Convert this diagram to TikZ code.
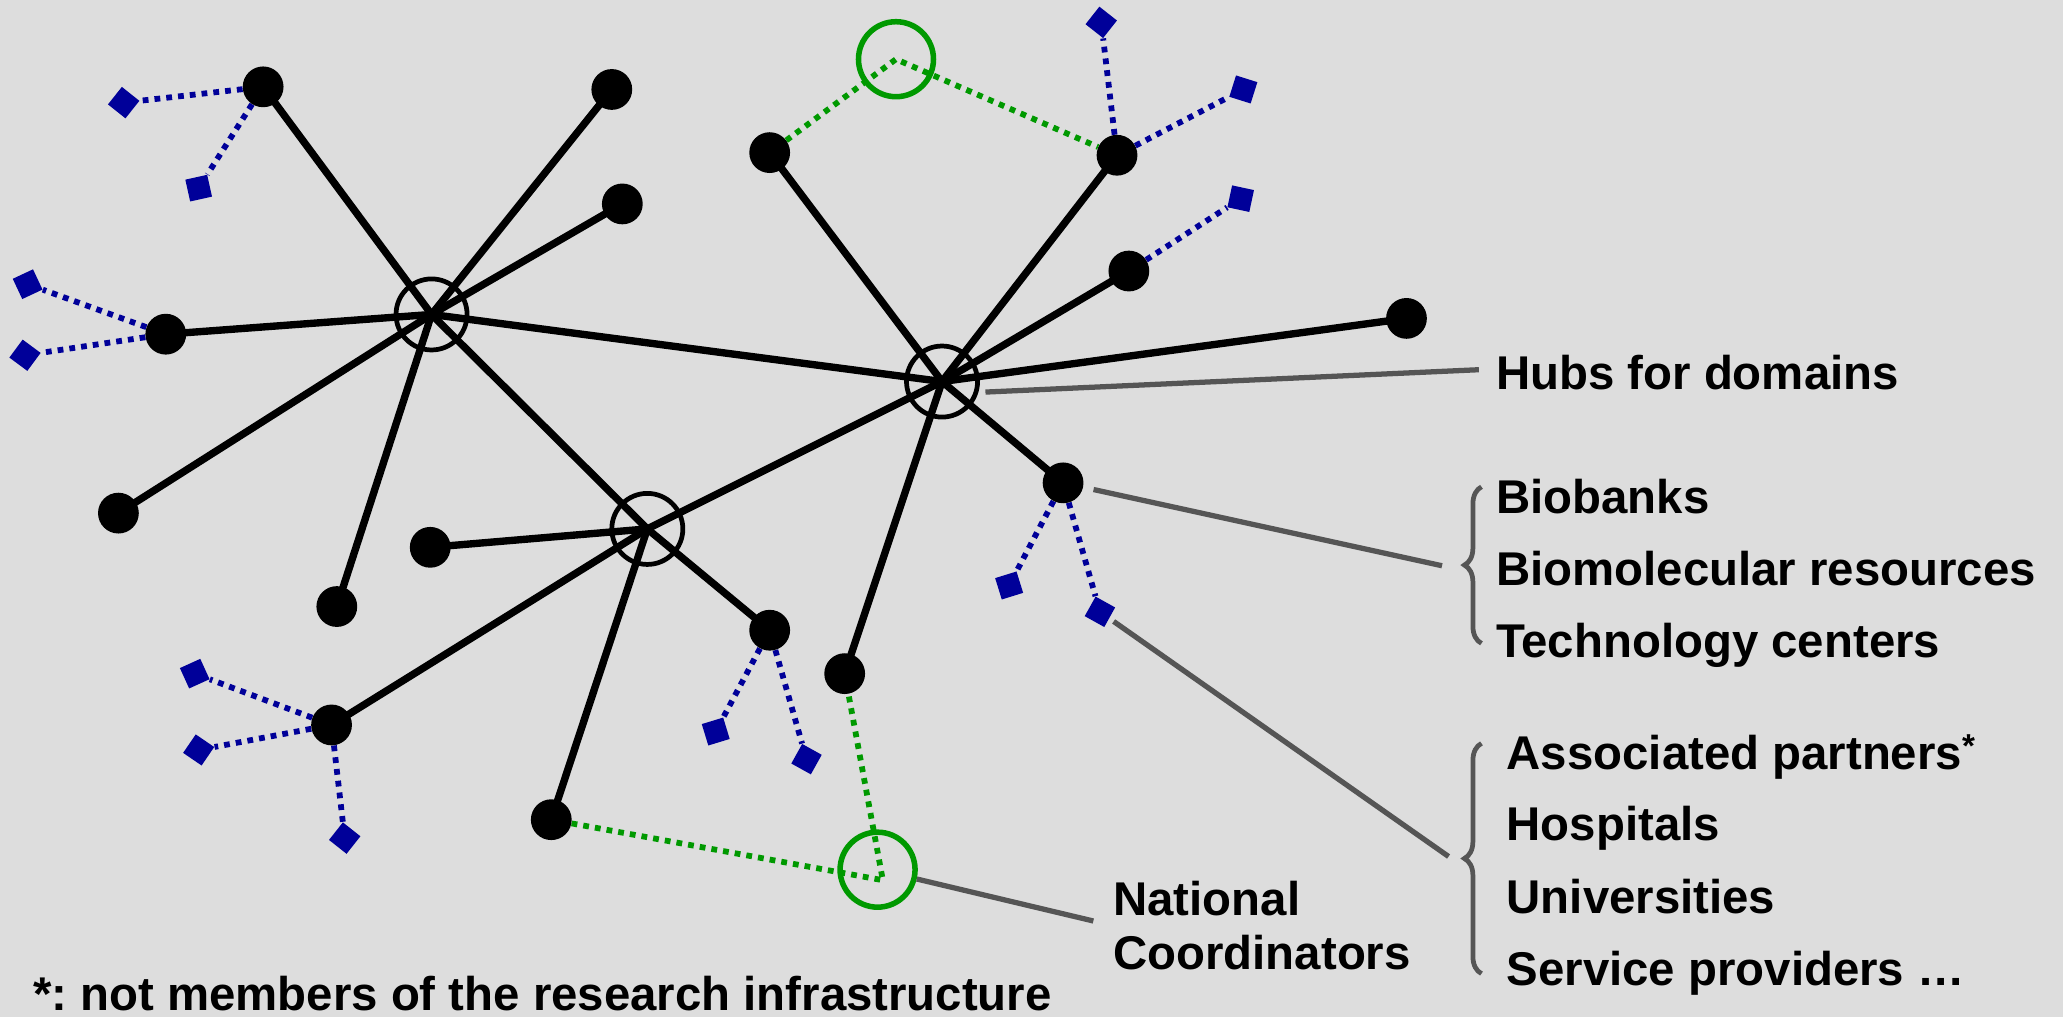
\documentclass[tikz,border=0pt]{standalone}
\usepackage{fontspec}
\setmainfont{Liberation Sans}
\usetikzlibrary{calc,decorations.pathreplacing}
\definecolor{bgc}{HTML}{DDDDDD}
\definecolor{dblue}{HTML}{000099}
\definecolor{dgreen}{HTML}{009900}
\definecolor{lgray}{HTML}{555555}
\pgfdeclarelayer{back}\pgfdeclarelayer{lines}\pgfsetlayers{back,lines,main}
\newcommand\bleaf[3]{%
  \path let \p1=($(#1)-(#3)$), \n1={atan2(\y1,\x1)} in node[diam,rotate=\n1+45] (#2) at (#3) {};
  \begin{pgfonlayer}{lines}\draw[bluedot] (#1) -- (#2);\end{pgfonlayer}}
\frenchspacing
\begin{document}
\begin{tikzpicture}[x=1pt,y=-1pt,
  dot/.style={circle,fill=black,minimum size=31pt,inner sep=0pt},
  hub/.style={circle,draw=black,line width=3.6pt,minimum size=54pt,inner sep=0pt},
  nc/.style={circle,draw=dgreen,line width=4.2pt,minimum size=57pt,inner sep=0pt},
  diam/.style={rectangle,fill=dblue,minimum size=17pt,inner sep=0pt},
  link/.style={line width=5.6pt,black},
  bluedot/.style={dblue,line width=4.4pt,dash pattern=on 4.4pt off 4.6pt},
  greendot/.style={dgreen,line width=4.4pt,dash pattern=on 4.4pt off 4.6pt},
  leader/.style={lgray,line width=4pt},
  brc/.style={lgray,line width=3.6pt,decorate,decoration={brace,amplitude=13pt}},
  lbl/.style={anchor=base west,inner sep=0pt,font=\fontsize{36}{43}\selectfont\bfseries}]
\begin{pgfonlayer}{back}
\fill[bgc] (0,0) rectangle (1568,773);
\end{pgfonlayer}
\useasboundingbox (0,0) rectangle (1568,773);
% hubs
\node[hub] (H1) at (328,239) {};
\node[hub] (H2) at (716,290) {};
\node[hub] (H3) at (492,402) {};
% national coordinators
\node[nc] (G1) at (681,45) {};
\node[nc] (G2) at (667,661) {};
\coordinate (g2m) at (671,669);
% dots
\foreach \n/\x/\y in {n1/200/66,n2/465/68,n3/473/155,n4/126/254,n5/90/390,n6/256/461,
  n7/585/116,n8/849/118,n9/858/206,n10/1069/242,n11/808/367,n12/642/512,
  n13/327/416,n14/585/479,n15/252/551,n16/419/623}
  \node[dot] (\n) at (\x,\y) {};
% links
\begin{pgfonlayer}{lines}
\foreach \a/\b in {H1/n1,H1/n2,H1/n3,H1/n4,H1/n5,H1/n6,H1/H2,H1/H3,
  H2/n7,H2/n8,H2/n9,H2/n10,H2/n11,H2/n12,H2/H3,
  H3/n13,H3/n14,H3/n15,H3/n16}
  \draw[link] (\a.center) -- (\b.center);
\draw[greendot] (n7) -- (G1.center) -- (n8);
\draw[greendot] (n16) -- (g2m) -- (n12);
\end{pgfonlayer}
% partners
\bleaf{n1}{d1}{94,78}
\bleaf{n1}{d2}{151,143}
\bleaf{n4}{d3}{21,216}
\bleaf{n4}{d4}{19,270}
\bleaf{n8}{d5}{837,17}
\bleaf{n8}{d6}{945,68}
\bleaf{n9}{d7}{943,151}
\bleaf{n11}{d8}{767,445}
\bleaf{n11}{d9}{836,465}
\bleaf{n14}{d10}{544,556}
\bleaf{n14}{d11}{613,577}
\bleaf{n15}{d12}{148,512}
\bleaf{n15}{d13}{151,570}
\bleaf{n15}{d14}{262,637}
% labels
\node[lbl] (thubs) at (1137,296) {Hubs for domains};
\node[lbl] (tbio) at (1137,390) {Biobanks};
\node[lbl] (tbiomol) at (1137,445) {Biomolecular resources};
\node[lbl] (ttech) at (1137,500) {Technology centers};
\node[lbl] (tassoc) at (1145,585) {Associated partners\textsuperscript{*}};
\node[lbl] (thosp) at (1145,639) {Hospitals};
\node[lbl] (tuni) at (1145,694) {Universities};
\node[lbl] (tserv) at (1145,749) {Service providers …};
\node[lbl] (tnat) at (846,696) {National};
\node[lbl] (tcoord) at (846,737) {Coordinators};
\node[lbl] (tfoot) at (25,768) {*: not members of the research infrastructure};
% leaders
\coordinate (hl) at (749,298);
\coordinate (hr) at (1124,281);
\coordinate (b1tip) at (1096,430);
\coordinate (b2tip) at (1101,651);
\coordinate (nctip) at (831,700);
\draw[leader] (hl) -- (hr);
\draw[leader,shorten <=8pt] (n11) -- (b1tip);
\draw[leader,shorten <=4pt] (d9) -- (b2tip);
\draw[leader] (G2) -- (nctip);
% braces
\coordinate (b1a) at (1126,489);
\coordinate (b1b) at (1126,370);
\coordinate (b2a) at (1126,740);
\coordinate (b2b) at (1126,565);
\draw[brc] (b1a) -- (b1b);
\draw[brc] (b2a) -- (b2b);
\end{tikzpicture}
\end{document}
